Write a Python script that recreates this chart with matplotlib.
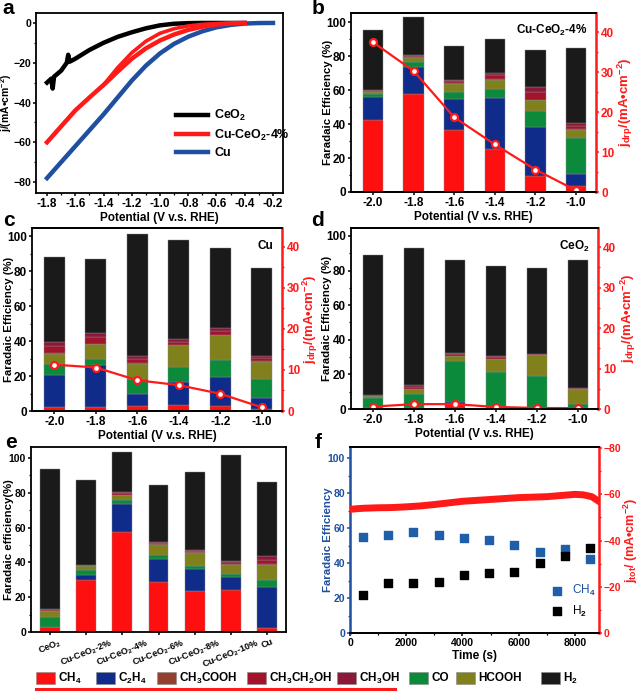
import numpy as np
import matplotlib
matplotlib.use("Agg")
import matplotlib.pyplot as plt
import matplotlib.patches as mpatches
from matplotlib.lines import Line2D
from matplotlib.ticker import MultipleLocator

plt.rcParams["font.family"] = ["Liberation Sans", "DejaVu Sans"]
plt.rcParams["font.weight"] = "bold"
plt.rcParams["axes.labelweight"] = "bold"
plt.rcParams["mathtext.fontset"] = "custom"
plt.rcParams["mathtext.rm"] = "Liberation Sans:bold"
plt.rcParams["mathtext.bf"] = "Liberation Sans:bold"
plt.rcParams["mathtext.it"] = "Liberation Sans:bold:italic"
plt.rcParams["mathtext.default"] = "rm"
plt.rcParams["xtick.direction"] = "out"
plt.rcParams["ytick.direction"] = "out"
plt.rcParams["xtick.major.size"] = 2.4
plt.rcParams["ytick.major.size"] = 2.4
plt.rcParams["xtick.minor.size"] = 1.4
plt.rcParams["ytick.minor.size"] = 1.4
plt.rcParams["xtick.major.width"] = 1.1
plt.rcParams["ytick.major.width"] = 1.1
plt.rcParams["xtick.minor.width"] = 0.9
plt.rcParams["ytick.minor.width"] = 0.9
plt.rcParams["xtick.major.pad"] = 1.5
plt.rcParams["ytick.major.pad"] = 1.2
plt.rcParams["font.size"] = 8.5

# ---- data: panel a (LSV curves) ----
v_ceo2 = [-1.8, -1.77, -1.76, -1.75, -1.7, -1.66, -1.65, -1.64, -1.6, -1.5, -1.4,
          -1.3, -1.2, -1.1, -1.0, -0.9, -0.8, -0.7, -0.6, -0.5, -0.4]
j_ceo2 = [-30, -28, -33, -27, -24, -20, -16, -19.5, -18, -13.6, -10,
          -7, -4.7, -2.7, -1.2, -0.4, -0.1, 0, 0, 0, 0]
v_cuce = [-1.8, -1.7, -1.6, -1.5, -1.4, -1.3, -1.2, -1.1, -1.0, -0.9, -0.8, -0.7, -0.6, -0.5, -0.4]
j_cuce = [-60, -52, -44, -37.5, -31.2, -24.5, -18, -12.8, -8.8, -5.8, -3.5, -1.9, -0.8, -0.2, 0]
v_cuce_back = [-1.4, -1.3, -1.2, -1.1, -1.0, -0.9, -0.8, -0.7, -0.6, -0.5, -0.4]
j_cuce_back = [-31.2, -22.5, -15, -9.2, -5.2, -2.9, -1.5, -0.7, -0.3, -0.1, 0]
v_cu = [-1.8, -1.7, -1.6, -1.5, -1.4, -1.3, -1.2, -1.1, -1.0, -0.9, -0.8,
        -0.7, -0.6, -0.5, -0.4, -0.3, -0.2]
j_cu = [-78, -70, -62, -54, -46, -37.5, -29, -21.5, -15.3, -10.5, -6.9,
        -4.2, -2.2, -1.0, -0.3, -0.05, 0]

# ---- data: product faradaic efficiencies ----
potentials = [-2.0, -1.8, -1.6, -1.4, -1.2, -1.0]
pot_labels = ["-2.0", "-1.8", "-1.6", "-1.4", "-1.2", "-1.0"]

fe_b = {  # Cu-CeO2-4%
    "CH4": [42.7, 57.7, 36.4, 25.2, 9.4, 3.5],
    "C2H4": [13.4, 16.1, 18.6, 30.0, 29.0, 7.3],
    "CO": [1.6, 3.0, 4.0, 5.3, 9.2, 21.1],
    "HCOOH": [1.3, 2.5, 5.0, 5.6, 6.5, 4.9],
    "CH3COOH": [0.3, 0.3, 0.3, 0.3, 0.3, 0.3],
    "CH3CH2OH": [0.6, 0.7, 1.0, 2.4, 4.5, 2.0],
    "CH3OH": [0.5, 0.4, 0.7, 1.6, 3.1, 1.6],
    "H2": [35.1, 22.6, 20.0, 19.7, 22.0, 44.3],
}
jdrp_b = [37.5, 30.3, 18.7, 11.9, 5.6, 0.4]

fe_c = {  # Cu
    "CH4": [2.3, 2.3, 3.1, 3.2, 2.9, 1.0],
    "C2H4": [18.5, 24.2, 6.4, 13.4, 16.6, 6.6],
    "CO": [6.3, 3.5, 8.6, 8.6, 9.5, 10.5],
    "HCOOH": [5.7, 8.2, 9.0, 12.4, 14.3, 9.9],
    "CH3COOH": [0.3, 0.3, 0.3, 0.3, 0.3, 0.3],
    "CH3CH2OH": [3.8, 3.7, 2.4, 1.8, 2.2, 1.8],
    "CH3OH": [2.6, 2.6, 1.7, 1.3, 1.7, 1.4],
    "H2": [48.7, 42.2, 69.8, 56.5, 45.4, 50.0],
}
jdrp_c = [11.3, 10.6, 7.5, 6.3, 4.2, 0.9]

fe_d = {  # CeO2
    "CH4": [0.8, 0.8, 2.7, 0.8, 0.4, 0.4],
    "C2H4": [0, 0, 1.5, 0, 0, 0],
    "CO": [5.7, 7.9, 23.5, 20.8, 18.7, 2.5],
    "HCOOH": [0.8, 2.9, 3.1, 7.3, 12.1, 8.7],
    "CH3COOH": [0.1, 0.1, 0.1, 0.1, 0.1, 0.1],
    "CH3CH2OH": [0.4, 1.3, 0.9, 1.1, 0.2, 0.1],
    "CH3OH": [0.3, 0.9, 0.6, 0.7, 0.1, 0.1],
    "H2": [80.9, 79.4, 53.9, 51.7, 49.7, 74.0],
}
jdrp_d = [0.6, 1.2, 1.2, 0.5, 0.25, 0.2]

catalysts = ["CeO$_2$", "Cu-CeO$_2$-2%", "Cu-CeO$_2$-4%", "Cu-CeO$_2$-6%",
             "Cu-CeO$_2$-8%", "Cu-CeO$_2$-10%", "Cu"]
fe_e = {
    "CH4": [2.7, 29.8, 57.7, 28.8, 23.7, 24.1, 2.3],
    "C2H4": [0.3, 3.2, 15.7, 13.3, 12.3, 7.6, 23.7],
    "CO": [5.6, 2.5, 2.5, 2.3, 2.0, 1.5, 3.8],
    "HCOOH": [3.5, 2.3, 2.8, 5.7, 7.5, 5.5, 8.9],
    "CH3COOH": [0.1, 0.2, 0.3, 0.3, 0.3, 0.3, 0.3],
    "CH3CH2OH": [0.5, 0.4, 0.9, 0.9, 0.9, 1.0, 2.6],
    "CH3OH": [0.3, 0.3, 0.6, 0.7, 0.7, 0.8, 1.9],
    "H2": [80.5, 48.5, 23.0, 32.6, 44.6, 60.9, 42.9],
}

# ---- data: panel f (stability) ----
t_fe = [450, 1350, 2250, 3150, 4050, 4950, 5850, 6750, 7650, 8550]
fe_ch4_t = [55.0, 56.2, 57.5, 56.0, 54.5, 52.9, 50.1, 46.5, 48.0, 42.5]
fe_h2_t = [22.0, 28.7, 28.3, 29.4, 33.2, 34.2, 34.9, 39.8, 44.0, 48.4]
t_cur = [0, 250, 500, 1000, 1500, 2000, 2500, 3000, 3500, 4000, 4500, 5000,
         5500, 6000, 6500, 7000, 7500, 8000, 8300, 8600, 8850]
j_tot = [-53.5, -53.8, -54.0, -54.2, -54.3, -54.6, -55.0, -55.6, -56.3, -57.0, -57.4,
         -57.8, -58.2, -58.6, -58.8, -59.0, -59.5, -60.0, -59.8, -59.0, -57.0]

stack_order = ["CH4", "C2H4", "CO", "HCOOH", "CH3COOH", "CH3CH2OH", "CH3OH", "H2"]
legend_order = ["CH4", "C2H4", "CH3COOH", "CH3CH2OH", "CH3OH", "CO", "HCOOH", "H2"]
colors = {
    "CH4": "#ff1010", "C2H4": "#0f2c8a", "CH3COOH": "#94402f",
    "CH3CH2OH": "#a3142c", "CH3OH": "#8a1838", "CO": "#0b8a3c",
    "HCOOH": "#80801c", "H2": "#1a1a1a",
}
labels = {
    "CH4": "CH$_4$", "C2H4": "C$_2$H$_4$", "CH3COOH": "CH$_3$COOH",
    "CH3CH2OH": "CH$_3$CH$_2$OH", "CH3OH": "CH$_3$OH", "CO": "CO",
    "HCOOH": "HCOOH", "H2": "H$_2$",
}
RED = "#ff1a1a"
BLUE = "#1f4fa0"

W, H = 640, 692
fig = plt.figure(figsize=(6.4, 6.92), dpi=100)


def box(x0, y0, x1, y1):
    # pixel box (top-left origin) -> figure fraction
    return [x0 / W, 1 - y1 / H, (x1 - x0) / W, (y1 - y0) / H]


def label_x(px, bx):
    # pixel x -> axes fraction for a panel box
    return (px - bx[0]) / (bx[2] - bx[0])


def frame(ax, lw=1.3):
    for s in ax.spines.values():
        s.set_linewidth(lw)


def stacked(ax, x, fe, width):
    bottom = np.zeros(len(x))
    for p in stack_order:
        vals = np.array(fe[p])
        ax.bar(x, vals, width, bottom=bottom, color=colors[p],
               edgecolor="#8a8a8a", linewidth=0.3)
        bottom += vals


# ---- a ----
bx_a = (36, 13, 283, 193)
ax = fig.add_axes(box(*bx_a))
ax.plot(v_ceo2, j_ceo2, color="black", lw=3.2, label="CeO$_2$")
ax.plot(v_cu, j_cu, color=BLUE, lw=3.2, label="Cu", zorder=2)
ax.plot(v_cuce, j_cuce, color=RED, lw=3.2, label="Cu-CeO$_2$-4%", zorder=3)
ax.plot(v_cuce_back, j_cuce_back, color=RED, lw=2.6, zorder=3)
ax.set_xlim(-1.878, -0.129)
ax.set_ylim(-85.5, 5)
ax.xaxis.set_minor_locator(MultipleLocator(0.1))
ax.yaxis.set_major_locator(MultipleLocator(20))
ax.yaxis.set_minor_locator(MultipleLocator(10))
ax.set_xticks(np.arange(-1.8, -0.1, 0.2))
ax.set_xticklabels([f"{v:.1f}" for v in np.arange(-1.8, -0.1, 0.2)])
ax.tick_params(axis="y", labelsize=7.6)
ax.set_xlabel("Potential (V v.s. RHE)", labelpad=1)
ax.set_ylabel("j/(mA\u2022cm$^{-2}$)", fontsize=7.5)
ax.yaxis.set_label_coords(label_x(14.5, bx_a), 0.5)
frame(ax)
h, l = ax.get_legend_handles_labels()
ax.legend([h[0], h[2], h[1]], [l[0], l[2], l[1]], loc="center left",
          bbox_to_anchor=(0.52, 0.33), frameon=False, handlelength=2.6,
          handletextpad=0.5, labelspacing=0.35, fontsize=9)


def potential_panel(bx, fe, jdrp, tag, ytop, rtop, left_px, right_px):
    ax = fig.add_axes(box(*bx))
    stacked(ax, potentials, fe, 0.1)
    ax.set_xlim(-2.108, -0.902)
    ax.set_ylim(0, ytop)
    ax.set_xticks(potentials)
    ax.set_xticklabels(pot_labels)
    ax.yaxis.set_major_locator(MultipleLocator(20))
    ax.yaxis.set_minor_locator(MultipleLocator(10))
    ax.set_xlabel("Potential (V v.s. RHE)", labelpad=1)
    ax.set_ylabel("Faradaic Efficiency (%)", fontsize=8.2)
    ax.yaxis.set_label_coords(label_x(left_px, bx), 0.5)
    frame(ax)
    ax.spines["right"].set_visible(False)
    ax.text(0.965, 0.9, tag, transform=ax.transAxes, ha="right", va="center",
            fontsize=8.5)
    ax2 = ax.twinx()
    ax2.plot(potentials, jdrp, color=RED, lw=1.6, marker="o", ms=5,
             mfc="white", mec=RED, mew=1.6)
    ax2.set_ylim(0, rtop)
    ax2.yaxis.set_major_locator(MultipleLocator(10))
    ax2.yaxis.set_minor_locator(MultipleLocator(5))
    frame(ax2)
    ax2.spines["left"].set_visible(False)
    ax2.spines["right"].set_color(RED)
    ax2.spines["right"].set_linewidth(1.8)
    ax2.tick_params(axis="y", colors=RED, which="both")
    ax2.set_ylabel("j$_{drp}$/(mA\u2022cm$^{-2}$)", color=RED, fontsize=9.5)
    ax2.yaxis.set_label_coords(label_x(right_px, bx), 0.5)
    return ax


potential_panel((351, 13, 596, 192), fe_b, jdrp_b, "Cu-CeO$_2$-4%", 105.6, 44.8, 333, 616)
potential_panel((32, 228, 282, 411), fe_c, jdrp_c, "Cu", 104.6, 44.6, 14, 301)
potential_panel((351, 228, 598, 409), fe_d, jdrp_d, "CeO$_2$", 104.6, 44.7, 332, 619)

# ---- e ----
bx_e = (31, 447, 286, 632)
ax = fig.add_axes(box(*bx_e))
xe = np.arange(len(catalysts))
stacked(ax, xe, fe_e, 0.55)
ax.set_xlim(-0.52, 6.52)
ax.set_ylim(0, 106.3)
ax.set_xticks(xe)
ax.set_xticklabels(catalysts, rotation=22, ha="center", fontsize=6.5)
ax.yaxis.set_major_locator(MultipleLocator(20))
ax.yaxis.set_minor_locator(MultipleLocator(10))
ax.tick_params(axis="y", labelsize=7.5)
ax.set_ylabel("Faradaic efficiency(%)", fontsize=8.2)
ax.yaxis.set_label_coords(label_x(14, bx_e), 0.5)
frame(ax)

# ---- f ----
bx_f = (350, 447, 599, 633)
ax = fig.add_axes(box(*bx_f))
ax.scatter(t_fe, fe_ch4_t, marker="s", s=30, color="#1f5ea8", label="CH$_4$", zorder=3)
ax.scatter(t_fe, fe_h2_t, marker="s", s=30, color="black", label="H$_2$", zorder=3)
ax.set_xlim(0, 8857)
ax.set_ylim(0, 106.3)
ax.xaxis.set_major_locator(MultipleLocator(2000))
ax.xaxis.set_minor_locator(MultipleLocator(1000))
ax.yaxis.set_major_locator(MultipleLocator(20))
ax.yaxis.set_minor_locator(MultipleLocator(10))
ax.set_xlabel("Time (s)", labelpad=1)
ax.set_ylabel("Faradaic Efficiency", color=BLUE, fontsize=8.2)
ax.yaxis.set_label_coords(label_x(333, bx_f), 0.5)
ax.tick_params(axis="y", colors=BLUE, which="both")
ax.tick_params(axis="both", labelsize=7.5)
frame(ax)
ax.spines["left"].set_color(BLUE)
ax.spines["left"].set_linewidth(1.8)
ax.spines["right"].set_visible(False)
lg = ax.legend(loc="lower right", bbox_to_anchor=(1.03, 0.02), frameon=False,
               handletextpad=0.3, labelspacing=0.45, prop={"weight": "normal", "size": 8.5})
lg.get_texts()[0].set_color(BLUE)
ax2 = ax.twinx()
ax2.plot(t_cur, j_tot, color=RED, lw=5)
ax2.set_ylim(0, -80.5)
ax2.yaxis.set_major_locator(MultipleLocator(20))
ax2.yaxis.set_minor_locator(MultipleLocator(10))
frame(ax2)
ax2.spines["left"].set_visible(False)
ax2.spines["right"].set_color(RED)
ax2.spines["right"].set_linewidth(1.8)
ax2.tick_params(axis="y", colors=RED, which="both", labelsize=7.5)
ax2.set_ylabel("j$_{tot}$/ (mA\u2022cm$^{-2}$)", color=RED, fontsize=9)
ax2.yaxis.set_label_coords(label_x(621.5, bx_f), 0.5)

# ---- panel letters ----
for letter, (px, py) in zip("abcdef", [(8, 9), (318, 9), (9, 220), (318, 220),
                                      (11, 443), (318, 443)]):
    fig.text(px / W, 1 - py / H, letter, fontsize=15, fontweight="bold",
             ha="center", va="center")

# ---- bottom legend (manual layout) ----
patch_x = [36, 96, 157, 247, 337, 409, 456, 541]
for p, px in zip(legend_order, patch_x):
    fig.add_artist(mpatches.Rectangle((px / W, 1 - 684 / H), 19 / W, 12 / H,
                                      transform=fig.transFigure, facecolor=colors[p],
                                      edgecolor="#8a8a8a", linewidth=0.4))
    fig.text((px + 22) / W, 1 - 678 / H, labels[p], fontsize=8.5,
             ha="left", va="center")
fig.add_artist(Line2D([36 / W, 395 / W], [1 - 689 / H] * 2, color=RED, lw=2.2))

fig.savefig("out.png", dpi=100)
